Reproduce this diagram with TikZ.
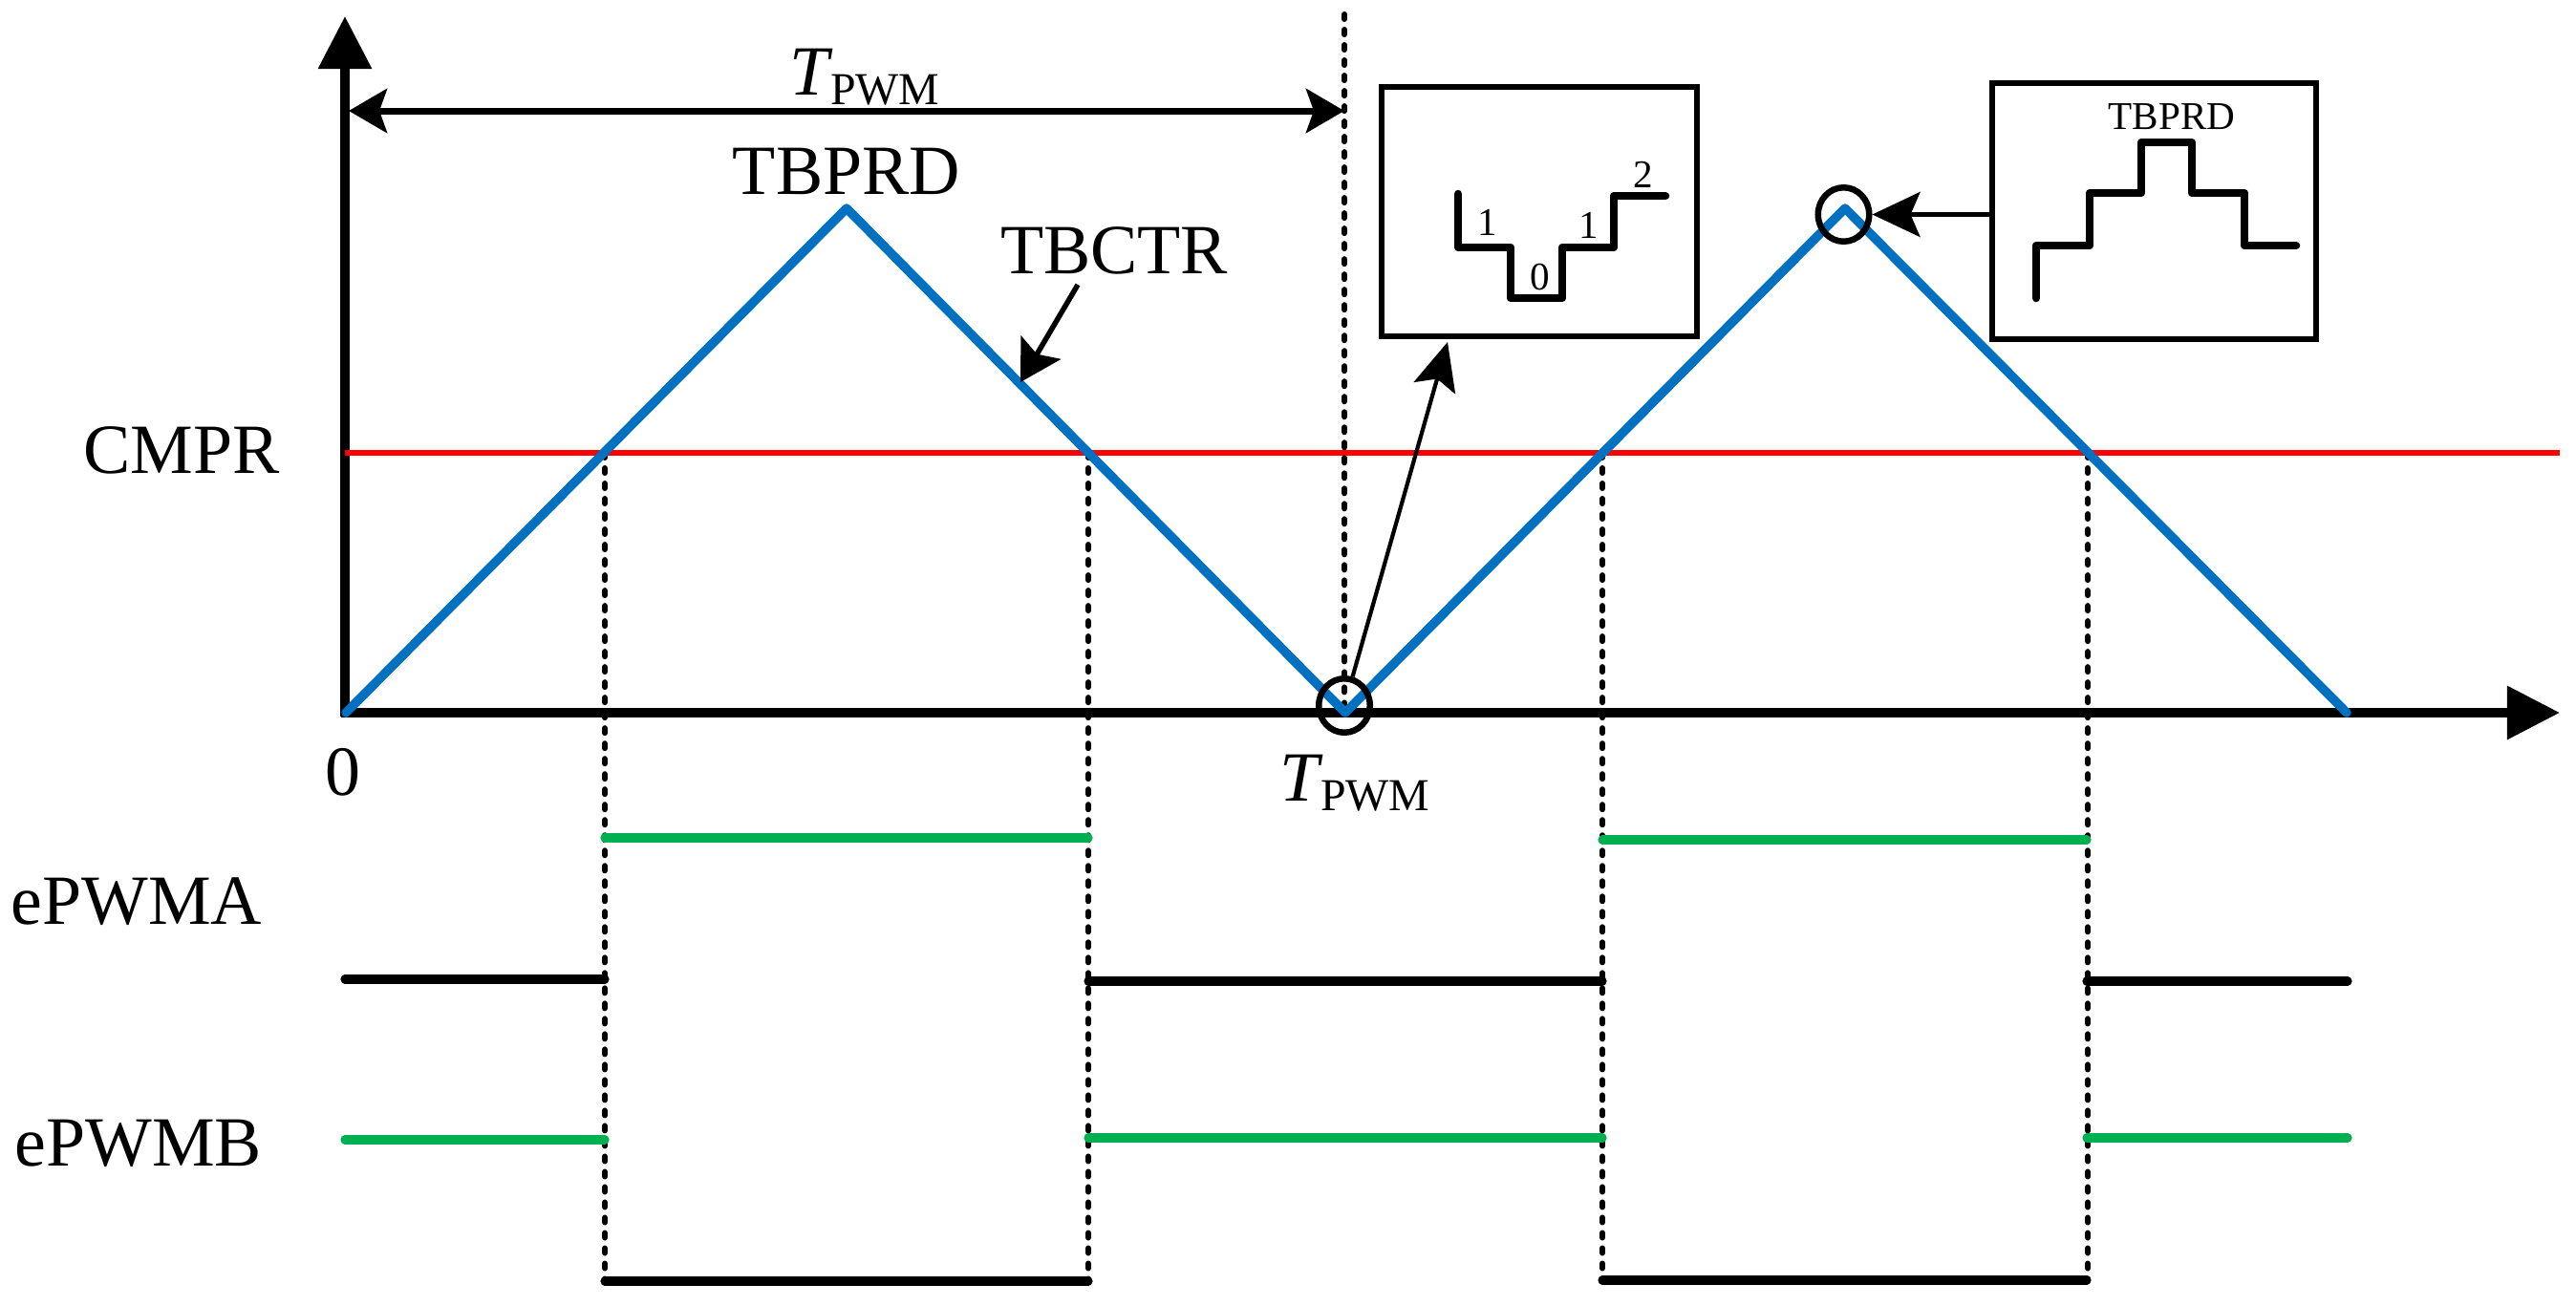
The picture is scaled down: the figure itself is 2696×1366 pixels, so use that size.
\documentclass[tikz,border=0pt]{standalone}
\usepackage{fontspec}
\setmainfont{Liberation Serif}
\usetikzlibrary{arrows.meta,shapes.geometric}
\definecolor{tricol}{RGB}{0,112,192}
\definecolor{sigcol}{RGB}{0,176,80}
\begin{document}
\begin{tikzpicture}[x=0.01cm,y=-0.01cm,
  lbl/.style={font=\fontsize{21}{25}\selectfont, inner sep=0pt},
  small/.style={font=\fontsize{11.7}{13}\selectfont, inner sep=0pt},
  dashline/.style={line width=0.06cm, line cap=round, dash pattern=on 0.05cm off 0.11cm},
  sig/.style={line width=0.092cm, line cap=round},
  stairs/.style={line width=0.085cm, line cap=round, line join=round},
  frame/.style={draw, line width=0.06cm, inner sep=0pt},
  ring/.style={draw, ellipse, line width=0.065cm, minimum width=0.535cm, minimum height=0.565cm, inner sep=0pt},
  bighead/.style={-{Triangle[length=0.55cm,width=0.54cm]}},
  ptr/.style={line width=0.055cm, -{Stealth[length=0.42cm,width=0.48cm,inset=0.08cm]}}
]
\useasboundingbox (0,0) rectangle (2696,1366);

% axes
\draw[line width=0.095cm, bighead] (361,750) -- (361,17);
\draw[line width=0.095cm, bighead] (357,746) -- (2679,746);

% compare level
\draw[red, line width=0.055cm] (361,474) -- (2679,474);

% dashed guides
\draw[dashline] (1407,15) -- (1407,746);
\draw[dashline] (633,474) -- (633,1342);
\draw[dashline] (1139,474) -- (1139,1342);
\draw[dashline] (1677,474) -- (1677,1340);
\draw[dashline] (2185,474) -- (2185,1340);

% carrier
\draw[tricol, line width=0.095cm, line join=round, line cap=round]
  (362,746) -- (886,218) -- (1408,746) -- (1931,218) -- (2456,746);

% period dimension
\draw[line width=0.07cm, {Stealth[length=0.4cm,width=0.46cm,inset=0.08cm]}-{Stealth[length=0.4cm,width=0.46cm,inset=0.08cm]}]
  (365,116) -- (1407,116);

% labels
\node[lbl, anchor=base west] (tp1) at (826,99.5) {\textit{T}\kern-0.03cm\raisebox{-0.1cm}{\fontsize{13.6}{15}\selectfont PWM}};
\node[lbl, anchor=base] (tbprd) at (886,203) {TBPRD};
\node[lbl, anchor=base] (tbctr) at (1166,286) {TBCTR};
\node[lbl, anchor=base] (cmpr) at (190,495) {CMPR};
\node[lbl, anchor=base] (zero) at (359,832) {0};
\node[lbl, anchor=base west] (tp2) at (1339,838) {\textit{T}\kern-0.03cm\raisebox{-0.107cm}{\fontsize{13.6}{15}\selectfont PWM}};
\node[lbl, anchor=base] (pa) at (143,967) {ePWMA};
\node[lbl, anchor=base] (pb) at (145,1220) {ePWMB};

% TBCTR pointer
\coordinate (ctrtail) at (1128,298);
\coordinate (ctrtip) at (1068,400);
\draw[ptr] (ctrtail) -- (ctrtip);

% zoom circles
\node[ring] (c1) at (1407,738.5) {};
\node[ring] (c2) at (1929.5,224.5) {};

% inset boxes
\node[frame, minimum width=3.3cm, minimum height=2.61cm] (box1) at (1611,221.5) {};
\node[frame, minimum width=3.39cm, minimum height=2.67cm] (box2) at (2254.5,221) {};

\draw[stairs] (1526,203) -- (1526,259) -- (1581,259) -- (1581,312) -- (1635,312)
  -- (1635,259) -- (1689,259) -- (1689,205) -- (1743,205);
\node[small, anchor=base] (d1) at (1557,246) {1};
\node[small, anchor=base] (d0) at (1612,303) {0};
\node[small, anchor=base] (d1b) at (1663,249) {1};
\node[small, anchor=base] (d2) at (1720,196) {2};

\draw[stairs] (2131,312) -- (2131,257) -- (2187,257) -- (2187,202) -- (2241,202)
  -- (2241,149) -- (2294,149) -- (2294,202) -- (2349,202) -- (2349,257) -- (2403,257);
\node[small, anchor=base] (bt) at (2273,135) {TBPRD};

% pointers to insets
\coordinate (b1tip) at (1515,358);
\draw[line width=0.042cm, -{Stealth[length=0.5cm,width=0.45cm,inset=0.1cm]}] (c1) -- (b1tip);
\draw[line width=0.042cm, -{Stealth[length=0.5cm,width=0.47cm,inset=0.1cm]}] (box2.west |- c2) -- (c2);

% ePWMA
\draw[sig] (361,1025) -- (633,1025);
\draw[sig, sigcol] (633,877) -- (1139,877);
\draw[sig] (1139,1027) -- (1677,1027);
\draw[sig, sigcol] (1677,879) -- (2184,879);
\draw[sig] (2184,1027) -- (2457,1027);

% ePWMB
\draw[sig, sigcol] (361,1193) -- (633,1193);
\draw[sig] (633,1341) -- (1139,1341);
\draw[sig, sigcol] (1139,1191) -- (1677,1191);
\draw[sig] (1677,1340) -- (2184,1340);
\draw[sig, sigcol] (2184,1191) -- (2457,1191);
\end{tikzpicture}
\end{document}
